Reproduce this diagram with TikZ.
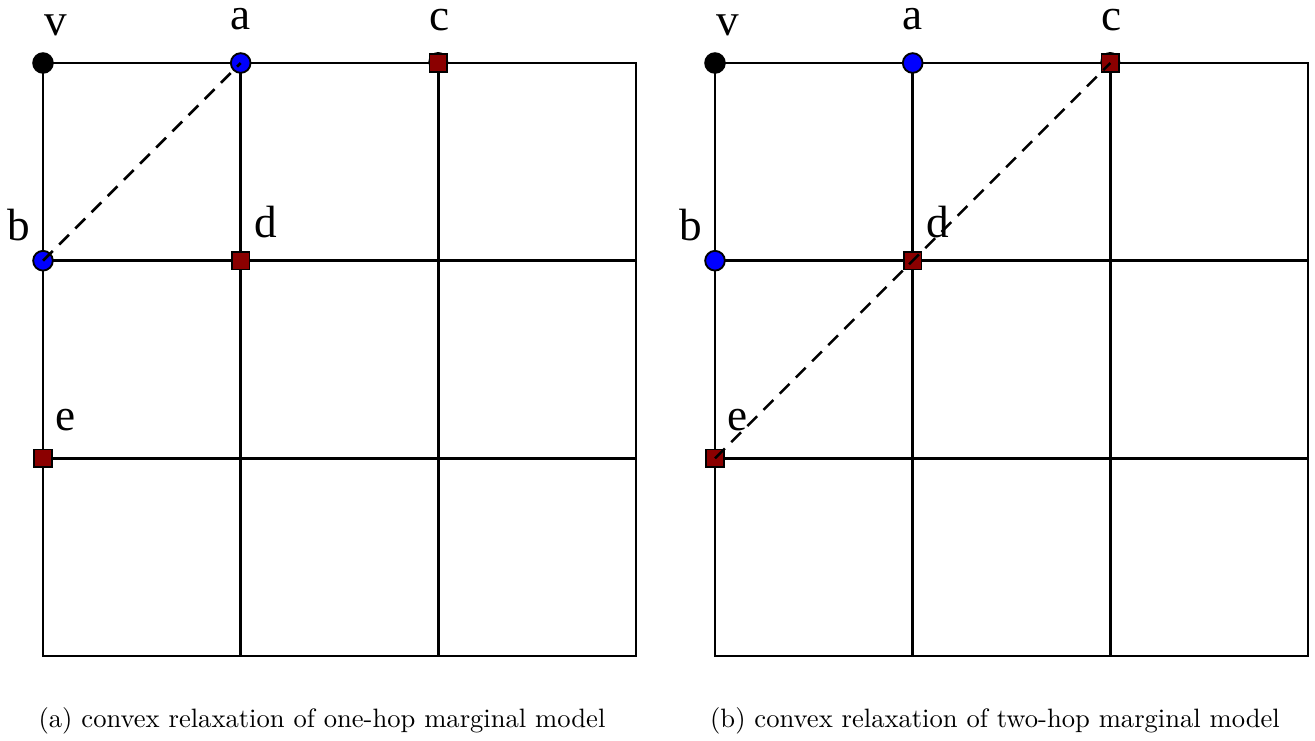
\documentclass[tikz,border=0pt]{standalone}
\usepackage{fontspec}
\newfontfamily\labfont{Liberation Serif}
\definecolor{sqred}{RGB}{139,0,0}
\definecolor{cblue}{RGB}{0,0,255}
\begin{document}
\begin{tikzpicture}[x=0.376pt,y=-0.376pt,
  gridline/.style={line width=1.1pt,black},
  vblack/.style={circle,fill=black,draw=black,line width=0.7pt,minimum size=7.4pt,inner sep=0pt},
  vblue/.style={circle,fill=cblue,draw=black,line width=0.7pt,minimum size=7.4pt,inner sep=0pt},
  vsq/.style={rectangle,fill=sqred,draw=black,line width=0.7pt,minimum size=6.6pt,inner sep=0pt},
  lab/.style={anchor=base,inner sep=0pt,text height=0.68em,text depth=0pt,font=\labfont\fontsize{17}{20}\selectfont},
  capt/.style={anchor=base,inner sep=0pt,font=\fontsize{10}{12}\selectfont},
  dashline/.style={line width=0.95pt,dash pattern=on 5.2pt off 3.4pt}]
\useasboundingbox (0,0) rectangle (1315,740);
% grids
\foreach \ox/\sx in {43/l,715/r}{
  \draw[gridline] (\ox,63) rectangle (\ox+593,656);
  \foreach \i in {1,2}{
    \draw[gridline] (\ox+\i*197.67,63) -- (\ox+\i*197.67,656);
    \draw[gridline] (\ox,63+\i*197.67) -- (\ox+593,63+\i*197.67);
  }
}
% left panel vertices
\draw[line width=0.7pt,fill=sqred] (438.3,62) circle (3.4pt);
\node[vblack] (v)  at (43,63) {};
\node[vblue]  (a)  at (240.7,63) {};
\node[vsq]    (c)  at (438.3,63) {};
\node[vblue]  (b)  at (43,260.7) {};
\node[vsq]    (d)  at (240.7,260.7) {};
\node[vsq]    (e)  at (43,458.3) {};
\draw[dashline] (b.center) -- (a.center);
% right panel vertices
\draw[line width=0.7pt,fill=sqred] (1110.3,62) circle (3.4pt);
\node[vblack] (v2) at (715,63) {};
\node[vblue]  (a2) at (912.7,63) {};
\node[vsq]    (c2) at (1110.3,63) {};
\node[vblue]  (b2) at (715,260.7) {};
\node[vsq]    (d2) at (912.7,260.7) {};
\node[vsq]    (e2) at (715,458.3) {};
\draw[dashline] (e2.center) -- (d2.center) -- (c2.center);
% labels
\foreach \ox/\s in {0/l,672/r}{
  \node[lab] (lv\s) at (\ox+56,35) {v};
  \node[lab] (la\s) at (\ox+240.7,29) {a};
  \node[lab] (lc\s) at (\ox+440,30) {c};
  \node[lab] (lb\s) at (\ox+19,240) {b};
  \node[lab] (ld\s) at (\ox+266,237) {d};
  \node[lab] (le\s) at (\ox+66,430) {e};
}
% captions
\node[capt] (capa) at (322,727) {(a) convex relaxation of one-hop marginal model};
\node[capt] (capb) at (995,727) {(b) convex relaxation of two-hop marginal model};
\end{tikzpicture}
\end{document}
